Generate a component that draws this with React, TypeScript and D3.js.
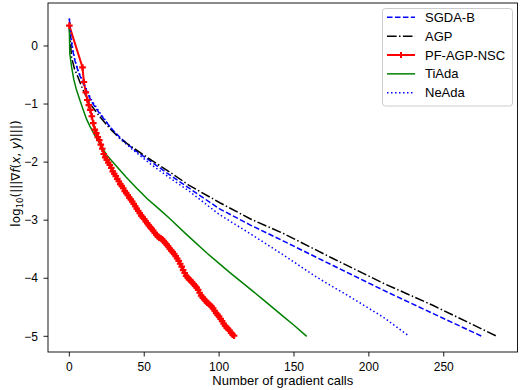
import React from "react";
import * as d3 from "d3";

const W = 520;
const H = 390;

const xTicks = [0, 50, 100, 150, 200, 250];
const yTicks = [0, -1, -2, -3, -4, -5];

const sgdaX = [0, 1, 2, 3.7, 6, 9.2, 14.8, 20.4, 28, 34, 43, 55, 67, 80, 100, 120.6, 143, 176, 210, 243, 275.5];
const sgdaY = [0.47, 0.15, -0.05, -0.25, -0.45, -0.64, -0.96, -1.17, -1.42, -1.58, -1.78, -2.0, -2.22, -2.45, -2.8, -3.08, -3.36, -3.78, -4.21, -4.61, -5.0];

const agpX = [0, 1.5, 3.5, 6, 9, 13.7, 20.4, 27, 34, 43, 55, 67, 80, 100.5, 121, 143, 176, 210, 243, 285.5];
const agpY = [0.3, -0.2, -0.4, -0.55, -0.75, -0.99, -1.22, -1.42, -1.6, -1.76, -1.97, -2.17, -2.4, -2.7, -2.98, -3.23, -3.66, -4.09, -4.47, -5.0];

const pfX = [0, 8.8, 9.7, 11, 12, 13, 14, 15, 16, 17, 18, 19, 20, 21, 22, 23, 24, 25, 26, 27, 28, 29, 30, 31, 32, 33, 34, 35, 36, 37, 38, 39, 40, 41, 42, 43, 44, 45, 46, 47, 48, 49, 50, 51, 52, 53, 54, 55, 56, 57, 58, 59, 60, 61, 62, 63, 64, 65, 66, 67, 68, 69, 70, 71, 72, 73, 74, 75, 76, 77, 78, 79, 80, 81, 82, 83, 84, 85, 86, 87, 88, 89, 90, 91, 92, 93, 94, 95, 96, 97, 98, 99, 100, 101, 102, 103, 104, 105, 106, 107, 108, 109, 110];
const pfY = [0.35, -0.37, -0.62, -0.8, -0.93, -1.02, -1.1, -1.21, -1.33, -1.44, -1.5, -1.57, -1.62, -1.7, -1.77, -1.86, -1.92, -1.96, -2.01, -2.05, -2.1, -2.16, -2.2, -2.24, -2.29, -2.33, -2.38, -2.41, -2.45, -2.5, -2.53, -2.57, -2.61, -2.64, -2.68, -2.72, -2.76, -2.8, -2.84, -2.88, -2.92, -2.95, -2.98, -3.02, -3.05, -3.09, -3.12, -3.15, -3.18, -3.22, -3.25, -3.28, -3.3, -3.31, -3.33, -3.36, -3.39, -3.42, -3.45, -3.49, -3.52, -3.55, -3.58, -3.62, -3.66, -3.7, -3.75, -3.8, -3.86, -3.91, -3.96, -3.99, -4.02, -4.04, -4.07, -4.1, -4.13, -4.16, -4.2, -4.25, -4.3, -4.33, -4.36, -4.39, -4.42, -4.44, -4.46, -4.49, -4.52, -4.56, -4.6, -4.63, -4.66, -4.7, -4.74, -4.78, -4.82, -4.85, -4.87, -4.9, -4.94, -4.97, -4.99];

const tiX = [0, 0.3, 1.5, 3, 4.8, 7, 9, 11.5, 13.7, 17, 20.4, 25, 30, 38, 45, 52, 60, 67, 78, 92, 107, 120, 130, 142, 150, 158.5];
const tiY = [0.3, -0.13, -0.36, -0.58, -0.76, -0.93, -1.08, -1.26, -1.38, -1.54, -1.68, -1.88, -2.03, -2.26, -2.45, -2.63, -2.81, -2.97, -3.24, -3.57, -3.9, -4.17, -4.38, -4.64, -4.81, -5.0];

const neX = [0, 1, 2, 3.7, 6, 9.2, 14.8, 20.4, 28, 34, 43, 55, 67, 80, 100, 120.6, 143, 165, 187.4, 209.6, 227];
const neY = [0.47, 0.2, 0.0, -0.24, -0.43, -0.62, -0.93, -1.15, -1.42, -1.6, -1.8, -2.05, -2.27, -2.5, -2.9, -3.23, -3.6, -3.98, -4.32, -4.67, -5.0];

const labels = ["SGDA-B", "AGP", "PF-AGP-NSC", "TiAda", "NeAda"];
const colors = ["#0000ff", "#000000", "#ff0000", "#008000", "#0000ff"];
const dashes = ["5.55,2.4", "9.6,2.4,1.5,2.4", "", "", "1.5,2.5"];

const left = 48, right = 517.5, top = 3, bottom = 352;

export default function App() {
  const x = d3.scaleLinear().domain([-14.25, 299.25]).range([left, right]);
  const y = d3.scaleLinear().domain([-5.27, 0.74]).range([bottom, top]);
  const line = d3.line<[number, number]>().x((d) => x(d[0])).y((d) => y(d[1]));
  const series = [
    [sgdaX, sgdaY],
    [agpX, agpY],
    [pfX, pfY],
    [tiX, tiY],
    [neX, neY],
  ].map(([xs, ys]) => xs.map((v, i) => [v, ys[i]] as [number, number]));
  const widths = [1.5, 1.5, 2, 1.5, 1.5];
  const font = "'Liberation Sans', Arial, sans-serif";
  const plus = (cx: number, cy: number, s: number) =>
    `M${cx - s},${cy}L${cx + s},${cy}M${cx},${cy - s}L${cx},${cy + s}`;

  const legX = 382.5, legY = 8.5, legW = 130, legH = 97.5;
  return (
    <svg width={W} height={H} style={{ position: "absolute", left: 0, top: 0 }}>
      <rect width={W} height={H} fill="#fff" />
      <defs>
        <clipPath id="clip">
          <rect x={left} y={top} width={right - left} height={bottom - top} />
        </clipPath>
      </defs>
      <g clipPath="url(#clip)">
        {series.map((d, i) => (
          <path
            key={i}
            d={line(d) || ""}
            fill="none"
            stroke={colors[i]}
            strokeWidth={widths[i]}
            strokeDasharray={dashes[i] || undefined}
          />
        ))}
        {series[2].map((p, j) => (
          <path key={"m" + j} d={plus(x(p[0]), y(p[1]), 3.3)} stroke="#ff0000" strokeWidth={2.2} fill="none" />
        ))}
      </g>
      <rect x={left} y={top} width={right - left} height={bottom - top} fill="none" stroke="#000" strokeWidth={0.9} />
      {xTicks.map((t) => (
        <g key={"x" + t}>
          <line x1={x(t)} x2={x(t)} y1={bottom} y2={bottom + 4.5} stroke="#000" strokeWidth={0.9} />
          <text x={x(t)} y={371} textAnchor="middle" fontFamily={font} fontSize={12}>
            {String(t)}
          </text>
        </g>
      ))}
      {yTicks.map((t) => (
        <g key={"y" + t}>
          <line x1={left - 4.5} x2={left} y1={y(t)} y2={y(t)} stroke="#000" strokeWidth={0.9} />
          <text x={38} y={y(t) + 4.2} textAnchor="end" fontFamily={font} fontSize={12}>
            {t < 0 ? "\u2212" + String(-t) : String(t)}
          </text>
        </g>
      ))}
      <text x={(left + right) / 2} y={385} textAnchor="middle" fontFamily={font} fontSize={13}>
        Number of gradient calls
      </text>
      <text
        transform={`translate(20,${(top + bottom) / 2 - 4}) rotate(-90)`}
        textAnchor="middle"
        fontFamily="'DejaVu Sans', sans-serif"
        fontSize={12}
      >
        log<tspan fontSize={8.5} dy={2.5}>10</tspan>
        <tspan dy={-2.5}>(|||∇</tspan>
        <tspan fontStyle="italic">f</tspan>(<tspan fontStyle="italic">x</tspan>, <tspan fontStyle="italic">y</tspan>)|||)
      </text>
      <rect x={legX} y={legY} width={legW} height={legH} rx={3} fill="#fff" fillOpacity={0.8} stroke="#cccccc" strokeWidth={1} />
      {labels.map((l, i) => {
        const ly = 17.3 + i * 18.85;
        return (
          <g key={l}>
            <line x1={387} x2={415} y1={ly} y2={ly} stroke={colors[i]} strokeWidth={widths[i]} strokeDasharray={dashes[i] || undefined} />
            {i === 2 && <path d={plus(401, ly, 3)} stroke="#ff0000" strokeWidth={2} />}
            <text x={425} y={ly + 4.5} fontFamily={font} fontSize={13}>
              {l}
            </text>
          </g>
        );
      })}
    </svg>
  );
}
